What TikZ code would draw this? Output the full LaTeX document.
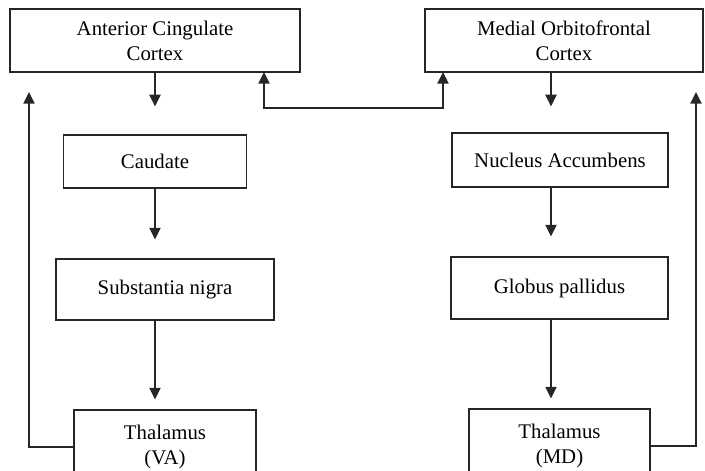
\documentclass[tikz,border=0pt]{standalone}
\usepackage{fontspec}
\setmainfont{Liberation Serif}
\usetikzlibrary{arrows.meta}

\begin{document}
\begin{tikzpicture}[x=0.5pt, y=-0.5pt,
  >={Triangle[width=5.6pt,length=5.8pt]},
  caja/.style={draw=black!85, line width=0.65pt, align=center, inner sep=0pt,
    font=\fontsize{10.4}{12.5}\selectfont},
  flecha/.style={->, draw=black!85, line width=0.65pt}]
  % Marco de la figura
  \useasboundingbox (0,0) rectangle (705,470);
  \clip (0,0) rectangle (705,470);
  % Cortezas
  \node[caja, minimum width=145pt, minimum height=31.5pt] (acc) at (155,40.5)
    {Anterior Cingulate\\Cortex};
  \node[caja, minimum width=139pt, minimum height=31.5pt] (mofc) at (564,40.5)
    {Medial Orbitofrontal\\Cortex};
  % Columna izquierda
  \node[caja, minimum width=91.5pt, minimum height=26.5pt] (caudate) at (155,161.5) {Caudate};
  \node[caja, minimum width=109pt, minimum height=30.5pt] (subnigra) at (165,289.5) {Substantia nigra};
  \node[caja, minimum width=91pt, minimum height=37pt] (va) at (165,447) {Thalamus\\(VA)};
  % Columna derecha
  \coordinate (colder) at (551,100);
  \node[caja, minimum width=108pt, minimum height=27pt] (na) at (560,160) {Nucleus Accumbens};
  \node[caja, minimum width=108.5pt, minimum height=31pt] (gp) at (559.5,288) {Globus pallidus};
  \node[caja, minimum width=90.5pt, minimum height=37pt] (md) at (559.5,446) {Thalamus\\(MD)};
  % Flechas hacia abajo
  \draw[flecha, shorten >=14pt] (acc) -- (caudate);
  \draw[flecha, shorten >=9.5pt] (caudate) -- (caudate |- subnigra.north);
  \draw[flecha, shorten >=5pt] (subnigra.south -| caudate) -- (caudate |- va.north);
  \draw[flecha, shorten >=13pt] (mofc.south -| colder) -- (colder |- na.north);
  \draw[flecha, shorten >=10pt] (na.south -| colder) -- (colder |- gp.north);
  \draw[flecha, shorten >=5pt] (gp.south -| colder) -- (colder |- md.north);
  % Retorno desde el talamo
  \coordinate (accpie) at (29,72);
  \coordinate (mofcpie) at (696,72);
  \draw[flecha, shorten >=10pt] (va.west) -| (accpie);
  \draw[flecha, shorten >=10pt] (md.east) -| (mofcpie);
  % Enlace entre cortezas
  \coordinate (accder) at (264,72);
  \coordinate (mofcizq) at (443,72);
  \coordinate (enlace) at (353,108);
  \draw[flecha, <->] (accder) |- (enlace) -| (mofcizq);
\end{tikzpicture}
\end{document}
